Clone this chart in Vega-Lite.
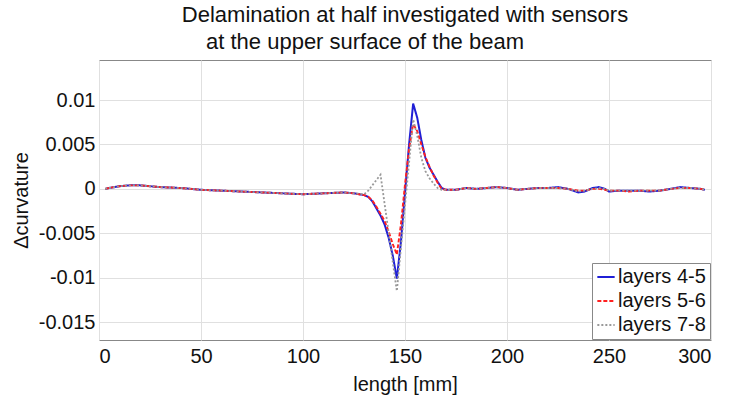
{
  "$schema": "https://vega.github.io/schema/vega-lite/v6.json",
  "width": 612,
  "height": 280,
  "autosize": "none",
  "padding": {"left": 99, "top": 60, "right": 25, "bottom": 60},
  "background": "white",
  "config": {
    "font": "Liberation Sans",
    "view": {"stroke": "#888888", "strokeWidth": 1},
    "axis": {
      "labelFontSize": 20, "titleFontSize": 20, "titleFontWeight": "normal",
      "labelColor": "#111", "titleColor": "#111",
      "gridColor": "#e0e0e0", "gridWidth": 1,
      "domain": false, "ticks": false
    },
    "legend": {
      "orient": "bottom-right", "offset": 1, "strokeColor": "#888888", "fillColor": "white",
      "padding": 4, "labelFontSize": 20, "symbolType": "stroke", "symbolSize": 300,
      "rowPadding": 4, "labelOffset": 2, "labelColor": "#111", "labelLimit": 300
    }
  },
  "title": {
    "text": ["Delamination at half investigated with sensors", "at the upper surface of the beam\u2800\u2800\u2800\u2800\u2800"],
    "anchor": "middle", "fontSize": 22, "fontWeight": "normal",
    "lineHeight": 27, "offset": 6, "color": "#111"
  },
  "data": {
    "values": [
      {"x":3,"v":0,"s":"layers 4-5"},{"x":5,"v":0.0001,"s":"layers 4-5"},{"x":10,"v":0.0003,"s":"layers 4-5"},{"x":15,"v":0.0004,"s":"layers 4-5"},{"x":20,"v":0.0004,"s":"layers 4-5"},{"x":25,"v":0.0003,"s":"layers 4-5"},{"x":30,"v":0.0002,"s":"layers 4-5"},{"x":40,"v":0.0001,"s":"layers 4-5"},{"x":50,"v":-0.0001,"s":"layers 4-5"},{"x":60,"v":-0.0002,"s":"layers 4-5"},{"x":70,"v":-0.0003,"s":"layers 4-5"},{"x":80,"v":-0.0004,"s":"layers 4-5"},{"x":90,"v":-0.0005,"s":"layers 4-5"},{"x":100,"v":-0.0006,"s":"layers 4-5"},{"x":110,"v":-0.0005,"s":"layers 4-5"},{"x":120,"v":-0.0004,"s":"layers 4-5"},{"x":125,"v":-0.0005,"s":"layers 4-5"},{"x":130,"v":-0.0007,"s":"layers 4-5"},{"x":132,"v":-0.0009,"s":"layers 4-5"},{"x":134,"v":-0.0014,"s":"layers 4-5"},{"x":136,"v":-0.0022,"s":"layers 4-5"},{"x":138,"v":-0.003,"s":"layers 4-5"},{"x":140,"v":-0.004,"s":"layers 4-5"},{"x":142,"v":-0.0055,"s":"layers 4-5"},{"x":144,"v":-0.0075,"s":"layers 4-5"},{"x":146,"v":-0.0101,"s":"layers 4-5"},{"x":148,"v":-0.006,"s":"layers 4-5"},{"x":150,"v":-0.0005,"s":"layers 4-5"},{"x":152,"v":0.005,"s":"layers 4-5"},{"x":154,"v":0.0096,"s":"layers 4-5"},{"x":156,"v":0.008,"s":"layers 4-5"},{"x":158,"v":0.0055,"s":"layers 4-5"},{"x":160,"v":0.0035,"s":"layers 4-5"},{"x":162,"v":0.0024,"s":"layers 4-5"},{"x":164,"v":0.0016,"s":"layers 4-5"},{"x":166,"v":0.0008,"s":"layers 4-5"},{"x":168,"v":0.0001,"s":"layers 4-5"},{"x":170,"v":-0.0001,"s":"layers 4-5"},{"x":175,"v":-0.0001,"s":"layers 4-5"},{"x":180,"v":0.0001,"s":"layers 4-5"},{"x":185,"v":0,"s":"layers 4-5"},{"x":190,"v":0.0001,"s":"layers 4-5"},{"x":195,"v":0.0002,"s":"layers 4-5"},{"x":200,"v":0.0001,"s":"layers 4-5"},{"x":205,"v":-0.0001,"s":"layers 4-5"},{"x":210,"v":0,"s":"layers 4-5"},{"x":215,"v":0.0001,"s":"layers 4-5"},{"x":220,"v":0.0001,"s":"layers 4-5"},{"x":225,"v":0.0002,"s":"layers 4-5"},{"x":230,"v":0,"s":"layers 4-5"},{"x":235,"v":-0.0004,"s":"layers 4-5"},{"x":238,"v":-0.0003,"s":"layers 4-5"},{"x":242,"v":0.0001,"s":"layers 4-5"},{"x":245,"v":0.0002,"s":"layers 4-5"},{"x":248,"v":0,"s":"layers 4-5"},{"x":250,"v":-0.0003,"s":"layers 4-5"},{"x":255,"v":-0.0002,"s":"layers 4-5"},{"x":260,"v":-0.0002,"s":"layers 4-5"},{"x":265,"v":-0.0002,"s":"layers 4-5"},{"x":270,"v":-0.0003,"s":"layers 4-5"},{"x":275,"v":-0.0002,"s":"layers 4-5"},{"x":280,"v":0,"s":"layers 4-5"},{"x":285,"v":0.0002,"s":"layers 4-5"},{"x":290,"v":0.0001,"s":"layers 4-5"},{"x":295,"v":0,"s":"layers 4-5"},{"x":297,"v":-0.0001,"s":"layers 4-5"},

      {"x":3,"v":0,"s":"layers 5-6"},{"x":5,"v":0.0001,"s":"layers 5-6"},{"x":10,"v":0.0003,"s":"layers 5-6"},{"x":15,"v":0.0004,"s":"layers 5-6"},{"x":20,"v":0.0004,"s":"layers 5-6"},{"x":25,"v":0.0003,"s":"layers 5-6"},{"x":30,"v":0.0002,"s":"layers 5-6"},{"x":40,"v":0.0001,"s":"layers 5-6"},{"x":50,"v":-0.0001,"s":"layers 5-6"},{"x":60,"v":-0.0002,"s":"layers 5-6"},{"x":70,"v":-0.0003,"s":"layers 5-6"},{"x":80,"v":-0.0004,"s":"layers 5-6"},{"x":90,"v":-0.0005,"s":"layers 5-6"},{"x":100,"v":-0.0006,"s":"layers 5-6"},{"x":110,"v":-0.0005,"s":"layers 5-6"},{"x":120,"v":-0.0004,"s":"layers 5-6"},{"x":125,"v":-0.0005,"s":"layers 5-6"},{"x":130,"v":-0.0007,"s":"layers 5-6"},{"x":132,"v":-0.0009,"s":"layers 5-6"},{"x":134,"v":-0.0013,"s":"layers 5-6"},{"x":136,"v":-0.002,"s":"layers 5-6"},{"x":138,"v":-0.0028,"s":"layers 5-6"},{"x":140,"v":-0.0036,"s":"layers 5-6"},{"x":142,"v":-0.0048,"s":"layers 5-6"},{"x":144,"v":-0.0062,"s":"layers 5-6"},{"x":146,"v":-0.0074,"s":"layers 5-6"},{"x":148,"v":-0.004,"s":"layers 5-6"},{"x":150,"v":0.0005,"s":"layers 5-6"},{"x":152,"v":0.0045,"s":"layers 5-6"},{"x":154,"v":0.0073,"s":"layers 5-6"},{"x":156,"v":0.0065,"s":"layers 5-6"},{"x":158,"v":0.005,"s":"layers 5-6"},{"x":160,"v":0.0036,"s":"layers 5-6"},{"x":162,"v":0.0025,"s":"layers 5-6"},{"x":164,"v":0.0015,"s":"layers 5-6"},{"x":166,"v":0.0007,"s":"layers 5-6"},{"x":168,"v":0,"s":"layers 5-6"},{"x":170,"v":-0.0001,"s":"layers 5-6"},{"x":175,"v":-0.0001,"s":"layers 5-6"},{"x":180,"v":0.0001,"s":"layers 5-6"},{"x":185,"v":0,"s":"layers 5-6"},{"x":190,"v":0.0001,"s":"layers 5-6"},{"x":195,"v":0.0002,"s":"layers 5-6"},{"x":200,"v":0.0001,"s":"layers 5-6"},{"x":205,"v":-0.0001,"s":"layers 5-6"},{"x":210,"v":0,"s":"layers 5-6"},{"x":215,"v":0.0001,"s":"layers 5-6"},{"x":220,"v":0.0001,"s":"layers 5-6"},{"x":225,"v":0.0001,"s":"layers 5-6"},{"x":230,"v":0,"s":"layers 5-6"},{"x":235,"v":-0.0002,"s":"layers 5-6"},{"x":238,"v":-0.0002,"s":"layers 5-6"},{"x":242,"v":0,"s":"layers 5-6"},{"x":245,"v":0,"s":"layers 5-6"},{"x":248,"v":-0.0001,"s":"layers 5-6"},{"x":250,"v":-0.0002,"s":"layers 5-6"},{"x":255,"v":-0.0002,"s":"layers 5-6"},{"x":260,"v":-0.0003,"s":"layers 5-6"},{"x":265,"v":-0.0002,"s":"layers 5-6"},{"x":270,"v":-0.0002,"s":"layers 5-6"},{"x":275,"v":-0.0002,"s":"layers 5-6"},{"x":280,"v":0,"s":"layers 5-6"},{"x":285,"v":0.0001,"s":"layers 5-6"},{"x":290,"v":0.0001,"s":"layers 5-6"},{"x":295,"v":0,"s":"layers 5-6"},{"x":297,"v":-0.0001,"s":"layers 5-6"},

      {"x":3,"v":0,"s":"layers 7-8"},{"x":5,"v":0.0001,"s":"layers 7-8"},{"x":10,"v":0.0003,"s":"layers 7-8"},{"x":15,"v":0.0004,"s":"layers 7-8"},{"x":20,"v":0.0004,"s":"layers 7-8"},{"x":25,"v":0.0003,"s":"layers 7-8"},{"x":30,"v":0.0002,"s":"layers 7-8"},{"x":40,"v":0.0001,"s":"layers 7-8"},{"x":50,"v":-0.0001,"s":"layers 7-8"},{"x":60,"v":-0.0002,"s":"layers 7-8"},{"x":70,"v":-0.0003,"s":"layers 7-8"},{"x":80,"v":-0.0004,"s":"layers 7-8"},{"x":90,"v":-0.0005,"s":"layers 7-8"},{"x":100,"v":-0.0006,"s":"layers 7-8"},{"x":110,"v":-0.0005,"s":"layers 7-8"},{"x":120,"v":-0.0004,"s":"layers 7-8"},{"x":125,"v":-0.0005,"s":"layers 7-8"},{"x":130,"v":-0.0006,"s":"layers 7-8"},{"x":132,"v":-0.0002,"s":"layers 7-8"},{"x":134,"v":0.0004,"s":"layers 7-8"},{"x":136,"v":0.001,"s":"layers 7-8"},{"x":138,"v":0.0016,"s":"layers 7-8"},{"x":146,"v":-0.0115,"s":"layers 7-8"},{"x":154,"v":0.0078,"s":"layers 7-8"},{"x":156,"v":0.006,"s":"layers 7-8"},{"x":158,"v":0.0035,"s":"layers 7-8"},{"x":160,"v":0.002,"s":"layers 7-8"},{"x":162,"v":0.0012,"s":"layers 7-8"},{"x":164,"v":0.0006,"s":"layers 7-8"},{"x":166,"v":0.0001,"s":"layers 7-8"},{"x":168,"v":-0.0001,"s":"layers 7-8"},{"x":170,"v":-0.0001,"s":"layers 7-8"},{"x":175,"v":-0.0001,"s":"layers 7-8"},{"x":180,"v":0.0001,"s":"layers 7-8"},{"x":185,"v":0,"s":"layers 7-8"},{"x":190,"v":0.0001,"s":"layers 7-8"},{"x":195,"v":0.0002,"s":"layers 7-8"},{"x":200,"v":0.0001,"s":"layers 7-8"},{"x":205,"v":-0.0001,"s":"layers 7-8"},{"x":210,"v":0,"s":"layers 7-8"},{"x":215,"v":0.0001,"s":"layers 7-8"},{"x":220,"v":0.0001,"s":"layers 7-8"},{"x":225,"v":0.0001,"s":"layers 7-8"},{"x":230,"v":0,"s":"layers 7-8"},{"x":235,"v":-0.0003,"s":"layers 7-8"},{"x":238,"v":-0.0002,"s":"layers 7-8"},{"x":242,"v":0,"s":"layers 7-8"},{"x":245,"v":0.0001,"s":"layers 7-8"},{"x":248,"v":0,"s":"layers 7-8"},{"x":250,"v":-0.0002,"s":"layers 7-8"},{"x":255,"v":-0.0002,"s":"layers 7-8"},{"x":260,"v":-0.0002,"s":"layers 7-8"},{"x":265,"v":-0.0002,"s":"layers 7-8"},{"x":270,"v":-0.0002,"s":"layers 7-8"},{"x":275,"v":-0.0002,"s":"layers 7-8"},{"x":280,"v":0,"s":"layers 7-8"},{"x":285,"v":0.0001,"s":"layers 7-8"},{"x":290,"v":0.0001,"s":"layers 7-8"},{"x":295,"v":0,"s":"layers 7-8"},{"x":297,"v":-0.0001,"s":"layers 7-8"}
    ]
  },
  "mark": {"type": "line", "clip": true},
  "encoding": {
    "x": {
      "field": "x", "type": "quantitative",
      "scale": {"domain": [0, 300], "nice": false},
      "axis": {"title": "length [mm]", "values": [0, 50, 100, 150, 200, 250, 300], "labelPadding": 6, "titlePadding": 8}
    },
    "y": {
      "field": "v", "type": "quantitative",
      "scale": {"domain": [-0.017, 0.0145], "nice": false, "zero": false},
      "axis": {"title": "Δcurvature", "values": [-0.015, -0.01, -0.005, 0, 0.005, 0.01], "labelExpr": "datum.value + ''", "labelPadding": 4, "titlePadding": 7}
    },
    "color": {
      "field": "s", "type": "nominal", "title": null,
      "scale": {"domain": ["layers 4-5", "layers 5-6", "layers 7-8"], "range": ["#1f1fd6", "#ff2020", "#999999"]}
    },
    "strokeDash": {
      "field": "s", "type": "nominal", "title": null,
      "scale": {"domain": ["layers 4-5", "layers 5-6", "layers 7-8"], "range": [[1, 0], [4, 2], [2, 2]]}
    },
    "strokeWidth": {
      "field": "s", "type": "nominal", "title": null,
      "scale": {"domain": ["layers 4-5", "layers 5-6", "layers 7-8"], "range": [2, 1.8, 1]}
    }
  }
}
